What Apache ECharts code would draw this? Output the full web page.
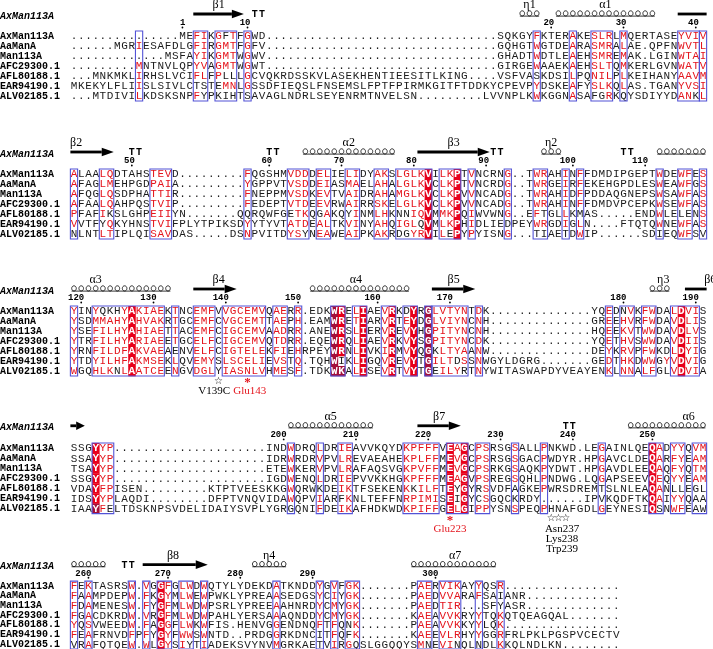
<!DOCTYPE html>
<html><head><meta charset="utf-8">
<script src="https://cdn.jsdelivr.net/npm/echarts@6/dist/echarts.min.js"></script>
<style>html,body{margin:0;padding:0;background:#fff}#c{width:713px;height:649px}</style>
</head><body><div id="c"></div>
<script>
// ---- DATA (lowercase = red residue, '.' = gap) ----
const names = ['AxMan113A','AaManA','Man113A','AFC29300.1','AFL80188.1','EAR94190.1','ALV02185.1'];
const refName = 'AxMan113A';

const seq1 = [
 "...............MEfiKgFtFgWD................................SQKGYfKTERaKEslrLmQERTASEyviv",
 "......MGRiESAFDLGfiRgmtFgFV................................GQHGTwGTDEaRAsmrAlAE.QPFNwvtl",
 ".............MSFAyiKgmtWgWV................................GHADTwDTLEaEHsmrEmAK.LGINwtai",
 ".........mNTNVLQPyvAgmtWgWT................................GIRGEwAAEKaEHsltQmKERLGVNwatv",
 "...MNKMKLiRHSLVCIflFpLLLgCVQKRDSSKVLASEKHENTIEESITLKING....VSFVASKDSIlPQnilPlKEIHANYaavm",
 "MKEKYLFLIiSLSIVLCTSTEmnLgSSDFIEQSLFNSEMSLFPTFPIRMKGITFTDDKYCPEVPyDSKEaFYslkQlAS.TGANyvsi",
 "...MTDIVIlKDSKSNPfYPKIHTSAVAGLNDRLSEYENRMTNVELSN.........LVVNPLKwKGGNaSAFGrKQYSDIYYDanKl"
];
const seq2 = [
 "aLAAlqDTAHStevD.........fQGSHMvddDelIEliDYakSlglkVIlkPTvNCRNg..TwrAHiNfFDMDIPGEPTwDEwfEs",
 "aFAGlmEHPGDpaiA.........yGPPVTvsdDeiASmaELahAlglkVClkPTvNCRDg..TwrGEiRfEKEHGPDLESwEAwfGs",
 "aFQGlqSDPHAttiR.........fNEPPMvsdKevTVaiDRahAmglkVClkPVvNCADg..TwrAHiDfPDDAQGNEPSwSAwfAs",
 "aFAAlqAHPQStviP.........fEDEPTvtdEevRWaiRRskElglkVClkPVvNCADg..TwrAHiNfFDMDVPCEPKwSEwfAs",
 "pFAFiKSLGHPeiiYN.......QQRQWFGEtkQGaKQYiNMlhKNNiqVMmkPQiWVWNg..EfTGLlKMAS.....ENDwLELENs",
 "vVTFYqKYHNStviFPLYTPIKSDyYTYVTatdEalTKviNYahQiglQVMlkPHiDLIEDPEYwrGDiGlN....FTQTQwNEwfAs",
 "NLNTltIPLQIsavDAS.....DSnPVITDysYNeaWEaiPKakRDGyrVIlEPYpYISNg...TIAETDwIP......SDIEQwfSV"
];
const seq3 = [
 "yINyQKHyAkiaeKtNCemfVvgcemvQaeRr.EDKWRElIAEvRKDYRGlvtynTdK..............YQeDNvKfwDAlDviS",
 "ySDmmahyAhvakRtGCemfCvgcemtTaePh.EAMWREtIARvRTeYDGlviynCnH..............GReEhvRfwDAvDliS",
 "ySEfilhyAhiaeTtACemfCigcemvAadRr.ANEWRSlIERvREvYHGpitynCnH..............HQeEkvTwwDAvDlvS",
 "yTRfilhyAriaeEtGCelfCigcemvQtdRr.EQEWRQlIAEvRKvYSGpitynCdK..............YQeThvSwwDAvDiiS",
 "yRNfildfAkvaeAENVelfCigteleKfiEhRPEYWRNlIVKiRMvYQGKltyaAnW..............DEyKrvPfwKDlDyiG",
 "yTDyilhfAkmseKlQVemySlsceliEvsTq.TQHWIKlIGQvREvYTGiltDsSnWGYLDGRG.......GEdThkDwwGyvDviG",
 "wGQhlkNlAatceEnGVdglYiasnlvHmeSf.TDKWKAlISEvRTvYTGEilyRTnYWITASWAPDYVEAYENkLnnAlfGLvDviA"
];
const seq4 = [
 "SSGYyp.....................INDwDRQlDRieAVVKQYDkpfffVEaGCpsRSGsALLpNKWD.LEgAINLQEQaDyyQvm",
 "SSAYyp.....................IDRwRDRvPVlrEVAEAHEkplffMEvGCpsRSGsGACpWDYR.HPgAVCLDEQaRfyEam",
 "TSAYyp.....................ETEwKERvPVlrAFAQSVGkpvffMEvGCpsRKGsAQKpYDWT.HPgAVDLEEQaQfyQtm",
 "SSGYyp.....................IGDwENQlDRiePVVKKHGkpfffMEaGVpsREGsQHLpNDWG.LQgAPSEEVQeQyyEam",
 "VDAYfpISEN.........KTPTVEESKKGwQRWKDEikTFSEKENkKilfTEYGYRsVDFAGKEpWRSDREMTSLNLEAQaNLLEGL",
 "IDSYypLAQDI........DFPTVNQVIDAwQPViARFkNLTEFFNrpimiSEIGYCsGQCKRDY......IPVKQDFTKQaIyyQAA",
 "IAAYfELTDSKNPSVDELIDAIYSVPLYGRGQNIfDEikAFHDKWDkpiffGElGIppYSNsPEQpHNAFGDLgEYNESIQSNwfEAW"
];
const seq5 = [
 "fEkTASRSw.vGGfGlwDwQTYLYDEKDaTKNDDyGvFgk.......PaeRvikAYyQSr................",
 "fAaMPDEPw.fKGyMlwEwPWKLYPREAaSEDGSyCiYgk.......PaeDvvaRAfSAIANR.............",
 "fDaMENESw.fYGfMlwDwPSRLYPREEaAHNRDyCmYgk.......PaeDtir...SFYASR.............",
 "fGaCDKRDw.vRGfMlwDwPAHLYERSAaAQNDDyCmYgk.......KaeAvvkRYyTQkQTQEAGQAL.......",
 "yQsVWEEDw.fAGgFlwKwFIS.HENVGgENDNQfTfQNk.......PaeAvvkKYyLQk................",
 "fEaFRNVDfPfYGyFwwSwNTD..PRDGgRKDNCITfQFk.......KaeEvlrHYyGGrFRLPKLPGSPVCECTV",
 "VRaFQTQEw.wLGySiYTiADEKSVYNVmGRKAETViRgQSLGGQQYSmNEviNQLNDLkKQLNDLKN........"
];

// framed (similar) column ranges per block
const boxes1 = [[9,9],[17,18],[20,22],[24,24],[64,64],[69,69],[72,74],[76,76],[84,86],[87,87]];
const boxes2 = [[0,0],[4,5],[11,13],[24,24],[30,32],[34,35],[38,39],[42,43],[45,49],[51,53],[55,55],[60,60],[64,65],[68,68],[70,70],[81,81],[84,85],[87,87]];
const boxes3 = [[0,0],[3,12],[14,14],[17,19],[21,26],[28,29],[31,31],[36,37],[39,40],[43,44],[46,47],[49,49],[50,54],[56,56],[74,74],[76,77],[79,80],[83,86]];
const boxes4 = [[3,5],[30,30],[34,34],[37,38],[46,50],[52,54],[56,57],[61,61],[65,65],[73,73],[80,81],[83,84],[86,87]];
const boxes5 = [[0,0],[2,2],[8,8],[10,10],[12,13],[15,16],[18,18],[28,28],[34,34],[36,36],[38,39],[48,49],[51,53],[56,56],[59,59]];

// identical cells (white on red): [column, per-row mask] 1 = red, 2 = dark red
const ident1 = [];
const ident2 = [[49,'1111111'],[53,'1111111']];
const ident3 = [[8,'1111111'],[36,'2222222'],[37,'1111102'],[40,'1111111'],[44,'1111111'],[47,'1111111'],[49,'2222222'],[84,'1111111']];
const ident4 = [[3,'1111112'],[52,'1111111'],[54,'1111111'],[80,'1111111']];
const ident5 = [[12,'1111111']];

// secondary structure of AxMan113A: [type, firstCol, lastCol, label, labelCol]
const ss1 = [['beta',17,23,'β1',20],['turn',25,26],['eta',62,64,'η1',63],['helix',67,80,'α1',73.5],['bar',84,87]];
const ss2 = [['beta',0,5,'β2',0.3],['turn',8,9],['turn',27,28],['helix',32,44,'α2',38],['beta',48,57,'β3',52.5],['turn',58,59],['eta',65,67,'η2',66],['turn',76,77],['helix',81,87]];
const ss3 = [['helix',0,13,'α3',3],['beta',17,22,'β4',20],['helix',33,46,'α4',39],['beta',50,55,'β5',52.5],['eta',80,82,'η3',81.5],['bar',85,87,'β6',88]];
const ss4 = [['beta',0,1],['helix',30,41,'α5',35.5],['beta',48,53,'β7',50.5],['turn',68,69],['helix',77,87,'α6',85]];
const ss5 = [['helix',0,4],['turn',7,8],['beta',10,18,'β8',13.7],['eta',25,29,'η4',27],['helix',47,58,'α7',52.7]];

// residue numbers shown above the alignment
const tickResidues = [1,10,20,30,40,50,60,70,80,90,100,110,120,130,140,150,160,170,180,190,200,210,220,230,240,250,260,270,280,290,300];

// annotations below blocks: [text, col, row, kind]
const notes3 = [['☆',20,7,'star'],['*',24,7,'redstar'],['V139C',19.4,8,'txt'],['Glu143',24.3,8,'redtxt']];
const notes4 = [['*',52,7,'redstar'],['☆',66,7,'star'],['☆',67,7,'star'],['☆',68,7,'star'],
                ['Glu223',52,8,'redtxt'],['Asn237',67.5,8,'txt'],['Lys238',67.5,9,'txt'],['Trp239',67.5,10,'txt']];

// ---- LAYOUT ----
const blocks = [
  {seqs:seq1, boxes:boxes1, ident:ident1, ss:ss1, notes:[],     row0:36,  rowH:10,   maxRow:7},
  {seqs:seq2, boxes:boxes2, ident:ident2, ss:ss2, notes:[],     row0:174, rowH:10,   maxRow:7},
  {seqs:seq3, boxes:boxes3, ident:ident3, ss:ss3, notes:notes3, row0:311, rowH:10,   maxRow:9},
  {seqs:seq4, boxes:boxes4, ident:ident4, ss:ss4, notes:notes4, row0:448, rowH:10.1, maxRow:11},
  {seqs:seq5, boxes:boxes5, ident:ident5, ss:ss5, notes:[],     row0:586, rowH:9.7,  maxRow:7}
];
const COLW = 7.23, COL0 = 74, NCOL = 88;
const GL = COL0 - COLW/2, GW = NCOL*COLW;
const RED = '#e4141c', BG = '#e8001a', DARK = '#a5103a', BLUE = '#5353d6';
const MONO = '"Liberation Mono", "DejaVu Sans Mono", monospace';
const SERIF = '"Liberation Serif", "DejaVu Serif", serif';

// residue numbering of the reference sequence
const resPos = {};
(function(){ let r = 0; blocks.forEach((b,bi)=>{ const s=b.seqs[0]; for(let c=0;c<s.length;c++){ if(/[A-Za-z]/.test(s[c])){ r++; resPos[r]=[bi,c]; } } }); })();

function makeCells(b){
  const im = {}; b.ident.forEach(([c,m])=>{ im[c]=m; });
  const out = [];
  b.seqs.forEach((s,r)=>{
    for(let c=0;c<s.length;c++){
      const ch = s[c]; const m = im[c] ? im[c][r] : '0';
      let k = 0;
      if (m==='1') k=2; else if (m==='2') k=3;
      else if (ch!=='.' && ch===ch.toLowerCase()) k=1;
      out.push([c,r,ch.toUpperCase(),k]);
    }
  });
  return out;
}

const option = {animation:false, grid:[], xAxis:[], yAxis:[], series:[]};
blocks.forEach((b,i)=>{
  const minRow = -3;
  option.grid.push({left:GL, width:GW, top:b.row0+minRow*b.rowH, height:(b.maxRow-minRow)*b.rowH, containLabel:false, outerBoundsMode:'none'});
  option.xAxis.push({type:'value', gridIndex:i, min:-0.5, max:NCOL-0.5, show:false});
  option.yAxis.push({type:'value', gridIndex:i, min:minRow, max:b.maxRow, interval:1, inverse:true,
    axisLine:{show:false}, axisTick:{show:false}, splitLine:{show:false},
    axisLabel:{show:true, hideOverlap:false, align:'left', margin:GL, color:'#000', fontFamily:MONO, fontWeight:'bold', fontSize:10,
      formatter:(v)=> v===-2 ? '{i|'+refName+'}' : (v>=0 && v<names.length ? names[v] : ''),
      rich:{i:{fontStyle:'italic', fontWeight:'bold', fontFamily:MONO, fontSize:10, color:'#000'}}}});

  const cells = makeCells(b);
  option.series.push({type:'custom', xAxisIndex:i, yAxisIndex:i, clip:false, z:2, progressive:0,
    data:cells.map(d=>[d[0],d[1]]),
    renderItem:(params,api)=>{
      const d = cells[params.dataIndex];
      const p = api.coord([d[0],d[1]]);
      const sz = api.size([1,1]); const w=Math.abs(sz[0]), h=Math.abs(sz[1]);
      const ch = [];
      if (d[3]>=2) ch.push({type:'rect', shape:{x:p[0]-w/2, y:p[1]-h/2, width:w+0.3, height:h+0.3}, style:{fill:d[3]===3?DARK:BG}});
      ch.push({type:'text', x:p[0], y:p[1]+0.5, style:{text:d[2], align:'center', verticalAlign:'middle',
        font:(d[3]>=2?'bold ':'')+'11px '+MONO, fill: d[3]>=2 ? '#fff' : (d[3]===1 ? RED : '#1a1a1a')}});
      return {type:'group', children:ch};
    }});

  option.series.push({type:'custom', xAxisIndex:i, yAxisIndex:i, clip:false, z:4, progressive:0,
    data:b.boxes.map(d=>[d[0],0]),
    renderItem:(params,api)=>{
      const d = b.boxes[params.dataIndex];
      const p1 = api.coord([d[0]-0.5,-0.5]), p2 = api.coord([d[1]+0.5,6.5]);
      return {type:'rect', shape:{x:p1[0], y:p1[1], width:p2[0]-p1[0], height:p2[1]-p1[1]},
        style:{fill:null, stroke:BLUE, lineWidth:1.1}};
    }});

  option.series.push({type:'custom', xAxisIndex:i, yAxisIndex:i, clip:false, z:3, progressive:0,
    data:b.ss.map(d=>[d[1],-2]),
    renderItem:(params,api)=>{
      const [type,s,e,label,lc] = b.ss[params.dataIndex];
      const y0 = api.coord([0,-2.2])[1];
      const xs = api.coord([s-0.5,0])[0], xe = api.coord([e+0.5,0])[0];
      const ch = [];
      if (type==='beta' || type==='bar'){
        const head = type==='beta' ? Math.min(12,(xe-xs)*0.6) : 0;
        ch.push({type:'rect', shape:{x:xs, y:y0-1.4, width:xe-xs-head, height:2.8}, style:{fill:'#000'}});
        if (head) ch.push({type:'polygon', shape:{points:[[xe-head,y0-4.3],[xe,y0],[xe-head,y0+4.3]]}, style:{fill:'#000'}});
      } else if (type==='helix' || type==='eta'){
        for (let c=s;c<=e;c++){
          const x = api.coord([c,0])[0];
          ch.push({type:'ellipse', shape:{cx:x, cy:y0-0.6, rx:2.3, ry:2.6}, style:{fill:null, stroke:'#000', lineWidth:0.8}});
        }
        ch.push({type:'line', shape:{x1:xs+1.2, y1:y0+2.1, x2:xe-1.2, y2:y0+2.1}, style:{stroke:'#000', lineWidth:0.8}});
      } else if (type==='turn'){
        for (let c=s;c<=e;c++){
          const x = api.coord([c,0])[0];
          ch.push({type:'text', x:x, y:y0+0.5, style:{text:'T', align:'center', verticalAlign:'middle', font:'bold 10px '+MONO, fill:'#000'}});
        }
      }
      if (label){
        const p = api.coord([lc,-3.1]);
        ch.push({type:'text', x:p[0], y:p[1], style:{text:label, align:'center', verticalAlign:'middle', font:'12px '+SERIF, fill:'#000'}});
      }
      return {type:'group', children:ch};
    }});

  const ticks = tickResidues.filter(r=>resPos[r] && resPos[r][0]===i).map(r=>[resPos[r][1], r]);
  option.series.push({type:'custom', xAxisIndex:i, yAxisIndex:i, clip:false, z:3, progressive:0,
    data:ticks.map(t=>[t[0],-1]),
    renderItem:(params,api)=>{
      const t = ticks[params.dataIndex];
      const pt = api.coord([t[0],-1.3]), pd = api.coord([t[0],-0.85]);
      return {type:'group', children:[
        {type:'text', x:pt[0]+3.0, y:pt[1], style:{text:String(t[1]), align:'right', verticalAlign:'middle', font:'bold 9px '+MONO, fill:'#000'}},
        {type:'circle', shape:{cx:pd[0], cy:pd[1], r:0.9}, style:{fill:'#000'}}]};
    }});

  if (b.notes.length){
    option.series.push({type:'custom', xAxisIndex:i, yAxisIndex:i, clip:false, z:3, progressive:0,
      data:b.notes.map(n=>[n[1],n[2]]),
      renderItem:(params,api)=>{
        const n = b.notes[params.dataIndex];
        const p = api.coord([n[1],n[2]]);
        let font = '11px '+SERIF, fill = '#000', dy = 0;
        if (n[3]==='star'){ font = '10px "DejaVu Sans"'; }
        if (n[3]==='redstar'){ font = 'bold 13px '+SERIF; fill = RED; dy = 2; }
        if (n[3]==='redtxt'){ fill = RED; }
        return {type:'text', x:p[0], y:p[1]+dy, style:{text:n[0], align:'center', verticalAlign:'middle', font:font, fill:fill}};
      }});
  }
});

const chart = echarts.init(document.getElementById('c'), null, {renderer:'canvas'});
chart.setOption(option);
</script>
</body></html>
